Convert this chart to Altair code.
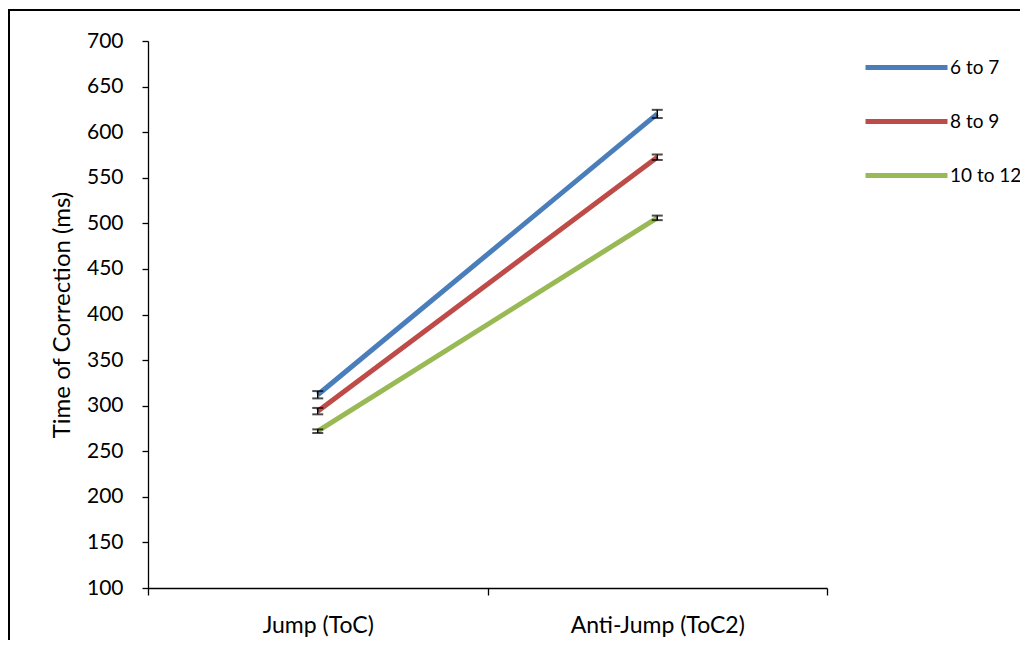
import altair as alt
import pandas as pd

conditions = ["Jump (ToC)", "Anti-Jump (ToC2)"]
groups = ["6 to 7", "8 to 9", "10 to 12"]
colors = ["#4A7EBB", "#BE4B48", "#98B954"]
means = {
    "6 to 7": [312, 620],
    "8 to 9": [294, 572.5],
    "10 to 12": [272, 506],
}
errors = {
    "6 to 7": [4, 4.5],
    "8 to 9": [3.5, 3],
    "10 to 12": [2, 2.5],
}

rows = []
for g in groups:
    for i, c in enumerate(conditions):
        m = means[g][i]
        e = errors[g][i]
        rows.append({"cond": c, "group": g, "val": m, "lo": m - e, "hi": m + e})
df = pd.DataFrame(rows)

FONT = "Lato"

x_enc = alt.X("cond:N", sort=conditions, title=None,
              scale=alt.Scale(paddingInner=0, paddingOuter=0),
              axis=alt.Axis(tickBand="extent", labelAngle=0, tickSize=7,
                            labelPadding=19, domainColor="black", tickColor="black",
                            labelFontSize=23, labelColor="black", labelFont=FONT,
                            domainWidth=1.3, tickWidth=1.3))
y_scale = alt.Scale(domain=[100, 700], nice=False, zero=False)

lines = alt.Chart(df).mark_line(strokeWidth=5).encode(
    x=x_enc,
    y=alt.Y("val:Q", scale=y_scale, title="Time of Correction (ms)",
            axis=alt.Axis(values=list(range(100, 701, 50)), grid=False, tickSize=6,
                          labelPadding=19, titlePadding=12, domainColor="black",
                          tickColor="black", labelFontSize=21, titleFontSize=24,
                          labelColor="black", titleColor="black", labelFont=FONT,
                          titleFont=FONT, titleFontWeight="normal",
                          domainWidth=1.3, tickWidth=1.3)),
    color=alt.Color("group:N", sort=groups,
                    scale=alt.Scale(domain=groups, range=colors),
                    legend=alt.Legend(title=None, symbolType="stroke",
                                      symbolSize=6724, symbolStrokeWidth=5,
                                      labelFontSize=19, labelFont=FONT,
                                      labelColor="black", labelOffset=0,
                                      labelLimit=300,
                                      rowPadding=0, orient="none",
                                      legendX=715, legendY=-17, padding=0)),
)

rule = alt.Chart(df).mark_rule(color="black", strokeWidth=1.5).encode(
    x=alt.X("cond:N", sort=conditions), y=alt.Y("lo:Q", scale=y_scale), y2="hi:Q")
cap_lo = alt.Chart(df).mark_tick(color="black", size=11, thickness=2).encode(
    x=alt.X("cond:N", sort=conditions), y=alt.Y("lo:Q", scale=y_scale))
cap_hi = alt.Chart(df).mark_tick(color="black", size=11, thickness=2).encode(
    x=alt.X("cond:N", sort=conditions), y=alt.Y("hi:Q", scale=y_scale))

frame = alt.Chart(df).mark_rect(fill=None, stroke="black", strokeWidth=2).encode(
    x=alt.value(-139), x2=alt.value(1000), y=alt.value(-31), y2=alt.value(700))

chart = alt.layer(frame, lines, rule, cap_lo, cap_hi).properties(
    width=679, height=547,
    padding={"left": 140, "top": 33, "right": 193, "bottom": 52},
    autosize=alt.AutoSizeParams(type="none"),
).configure(background="white").configure_view(stroke=None)

chart.save("out.html", embed_options={"renderer": "svg", "actions": False})
